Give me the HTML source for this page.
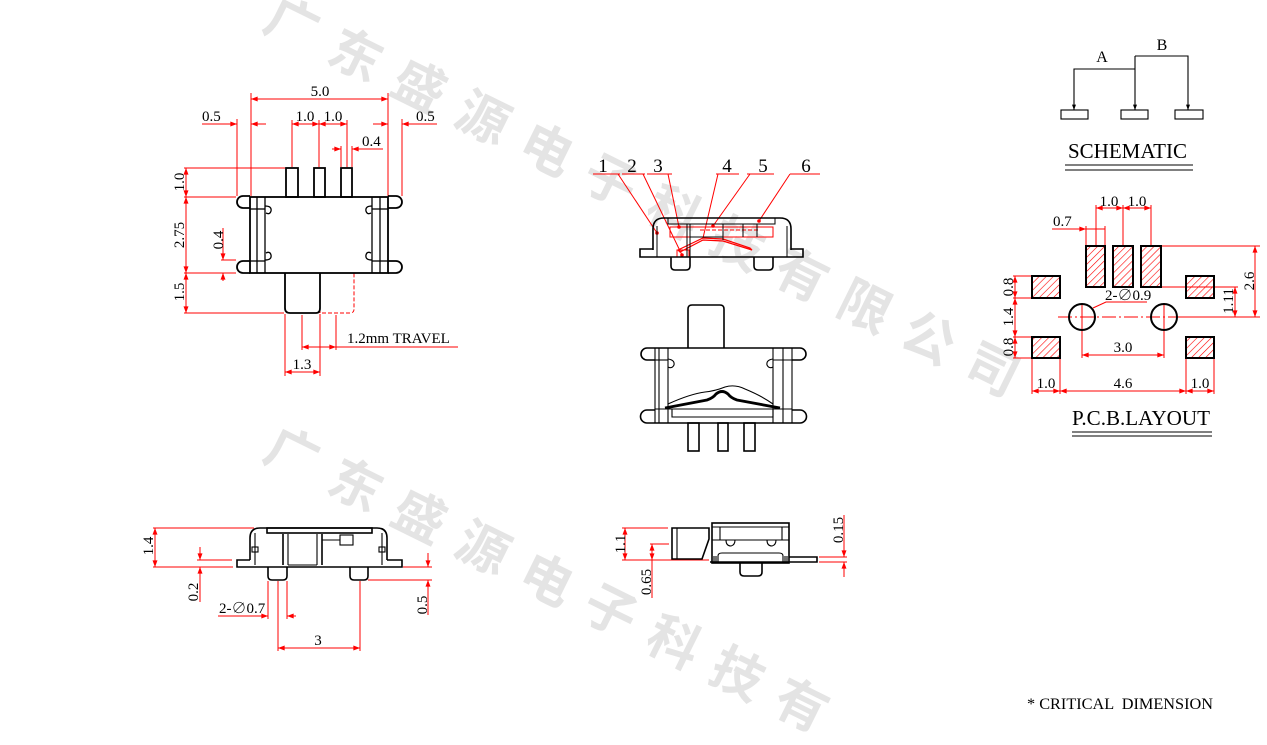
<!DOCTYPE html>
<html><head><meta charset="utf-8"><style>
html,body{margin:0;padding:0;background:#fff;width:1267px;height:745px;overflow:hidden;}
svg{display:block;overflow:hidden;}
text{font-family:"Liberation Serif","Noto Serif CJK SC",serif;fill:#000;}
.wm{font-family:"Noto Sans CJK SC","WenQuanYi Zen Hei",sans-serif;font-weight:bold;fill:#e4e4e4;}
</style></head><body>
<svg width="1267" height="745" viewBox="0 0 1267 745" xmlns="http://www.w3.org/2000/svg">
<defs>
<marker id="a" viewBox="0 0 8 6" refX="8" refY="3" markerWidth="7" markerHeight="5" orient="auto-start-reverse" markerUnits="userSpaceOnUse"><path d="M0,0 L8,3 L0,6z" fill="red"/></marker>
<marker id="k" viewBox="0 0 8 6" refX="8" refY="3" markerWidth="6" markerHeight="4" orient="auto-start-reverse" markerUnits="userSpaceOnUse"><path d="M0,0 L8,3 L0,6z" fill="#000"/></marker>
<pattern id="h" width="5" height="5" patternUnits="userSpaceOnUse" patternTransform="rotate(45)"><line x1="0" y1="0" x2="0" y2="5" stroke="red" stroke-width="1.2"/></pattern>
</defs>

<!-- watermark -->
<text class="wm" font-size="52" letter-spacing="19" transform="translate(292,24) rotate(26.3)" x="-26" y="18">广东盛源电子科技有限公司</text>
<text class="wm" font-size="52" letter-spacing="19" transform="translate(292,454) rotate(26.3)" x="-26" y="18">广东盛源电子科技有</text>

<!-- ============ TOP-LEFT VIEW ============ -->
<g stroke="red" stroke-width="1" fill="none">
 <line x1="251" y1="99" x2="388" y2="99" marker-start="url(#a)" marker-end="url(#a)"/>
 <line x1="251" y1="93" x2="251" y2="196"/>
 <line x1="388" y1="93" x2="388" y2="196"/>
 <line x1="202" y1="124" x2="237" y2="124" marker-end="url(#a)"/>
 <line x1="266" y1="124" x2="251" y2="124" marker-end="url(#a)"/>
 <line x1="237" y1="119" x2="237" y2="196"/>
 <line x1="373" y1="124" x2="388" y2="124" marker-end="url(#a)"/>
 <line x1="437" y1="124" x2="402" y2="124" marker-end="url(#a)"/>
 <line x1="402" y1="119" x2="402" y2="196"/>
 <line x1="292" y1="124" x2="319" y2="124" marker-start="url(#a)" marker-end="url(#a)"/>
 <line x1="319" y1="124" x2="347" y2="124" marker-start="url(#a)" marker-end="url(#a)"/>
 <line x1="292" y1="120" x2="292" y2="167"/>
 <line x1="319" y1="120" x2="319" y2="167"/>
 <line x1="347" y1="120" x2="347" y2="167"/>
 <line x1="332" y1="149" x2="341" y2="149" marker-end="url(#a)"/>
 <line x1="383" y1="149" x2="352" y2="149" marker-end="url(#a)"/>
 <line x1="341" y1="146" x2="341" y2="167"/>
 <line x1="352" y1="146" x2="352" y2="167"/>
 <line x1="186" y1="168" x2="186" y2="197" marker-start="url(#a)" marker-end="url(#a)"/>
 <line x1="186" y1="197" x2="186" y2="273" marker-start="url(#a)" marker-end="url(#a)"/>
 <line x1="186" y1="273" x2="186" y2="313" marker-start="url(#a)" marker-end="url(#a)"/>
 <line x1="184" y1="168" x2="285" y2="168"/>
 <line x1="184" y1="197" x2="236" y2="197"/>
 <line x1="184" y1="273" x2="236" y2="273"/>
 <line x1="184" y1="313" x2="284" y2="313"/>
 <line x1="223" y1="228" x2="223" y2="260" marker-end="url(#a)"/>
 <line x1="223" y1="281" x2="223" y2="273" marker-end="url(#a)"/>
 <line x1="221" y1="260" x2="236" y2="260"/>
 <line x1="302" y1="315" x2="302" y2="350"/>
 <line x1="336" y1="315" x2="336" y2="350"/>
 <line x1="302" y1="347" x2="336" y2="347" marker-start="url(#a)" marker-end="url(#a)"/>
 <line x1="336" y1="347" x2="458" y2="347"/>
 <line x1="285" y1="314" x2="285" y2="376"/>
 <line x1="320" y1="314" x2="320" y2="376"/>
 <line x1="285" y1="372" x2="320" y2="372" marker-start="url(#a)" marker-end="url(#a)"/>
 <path d="M320 273 V313 H350 Q354 313 354 309 V273" stroke-dasharray="4 2"/>
</g>
<g stroke="#000" stroke-width="1.8" fill="none">
 <rect x="286" y="168" width="12" height="29"/>
 <rect x="314" y="168" width="11" height="29"/>
 <rect x="341" y="168" width="11" height="29"/>
 <rect x="250" y="197" width="138" height="76"/>
 <path d="M250 196 H243 A6 6 0 0 0 243 208 H250"/>
 <path d="M250 261 H243 A6 6 0 0 0 243 273 H250"/>
 <path d="M388 196 H396 A6 6 0 0 1 396 208 H388"/>
 <path d="M388 261 H396 A6 6 0 0 1 396 273 H388"/>
 <path d="M285 273 V308 Q285 313 290 313 H316 Q320 313 320 308 V273"/>
</g>
<g stroke="#000" stroke-width="1.3" fill="none">
 <line x1="257" y1="197" x2="257" y2="273"/>
 <line x1="265" y1="197" x2="265" y2="273"/>
 <line x1="372" y1="197" x2="372" y2="273"/>
 <line x1="380" y1="197" x2="380" y2="273"/>
 <line x1="250" y1="209" x2="265" y2="209"/>
 <line x1="372" y1="209" x2="388" y2="209"/>
 <line x1="250" y1="261" x2="265" y2="261"/>
 <line x1="372" y1="261" x2="388" y2="261"/>
 <path d="M265 206 Q272 206 271 211 Q270 215 266 213"/>
 <path d="M372 206 Q365 206 366 211 Q367 215 371 213"/>
 <path d="M265 260 Q272 260 271 255 Q270 251 266 253"/>
 <path d="M372 260 Q365 260 366 255 Q367 251 371 253"/>
</g>
<g font-size="15">
 <text x="320" y="96" text-anchor="middle">5.0</text>
 <text x="202" y="121">0.5</text>
 <text x="416" y="121">0.5</text>
 <text x="305" y="121" text-anchor="middle">1.0</text>
 <text x="333" y="121" text-anchor="middle">1.0</text>
 <text x="362" y="146">0.4</text>
 <text transform="translate(184,182) rotate(-90)" text-anchor="middle">1.0</text>
 <text transform="translate(184,235) rotate(-90)" text-anchor="middle">2.75</text>
 <text transform="translate(223,240) rotate(-90)" text-anchor="middle">0.4</text>
 <text transform="translate(184,292) rotate(-90)" text-anchor="middle">1.5</text>
 <text x="347" y="343">1.2mm TRAVEL</text>
 <text x="302" y="369" text-anchor="middle">1.3</text>
</g>

<!-- ============ MIDDLE TOP (SECTION) ============ -->
<g stroke="red" stroke-width="1" fill="none">
 <line x1="593" y1="174" x2="620" y2="174"/>
 <line x1="622" y1="174" x2="645" y2="174"/>
 <line x1="647" y1="174" x2="672" y2="174"/>
 <line x1="716" y1="174" x2="739" y2="174"/>
 <line x1="747" y1="174" x2="774" y2="174"/>
 <line x1="790" y1="174" x2="820" y2="174"/>
 <line x1="618" y1="174" x2="657" y2="233"/>
 <line x1="643" y1="174" x2="682" y2="255"/>
 <line x1="668" y1="174" x2="679" y2="227"/>
 <line x1="718" y1="174" x2="703" y2="238"/>
 <line x1="750" y1="174" x2="713" y2="226"/>
 <line x1="790" y1="174" x2="759" y2="221"/>
 <rect x="670" y="227" width="103" height="10"/>
 <line x1="700" y1="230" x2="760" y2="230" stroke-dasharray="4 2"/>
 <path d="M678 250 L703 238 L723 239 L750 248 L752 250 L723 241 L703 240 L680 252Z" stroke-width="1.2"/>
 <rect x="677" y="250" width="12" height="7"/>
</g>
<g fill="red">
 <circle cx="657" cy="233" r="1.8"/><circle cx="679" cy="227" r="1.8"/><circle cx="713" cy="226" r="1.8"/><circle cx="759" cy="221" r="1.8"/><circle cx="682" cy="255" r="1.8"/>
</g>
<g stroke="#000" stroke-width="1.6" fill="none">
 <path d="M653 250 V229 Q653 218 664 218 H780 Q791 218 791 229 V250"/>
 <path d="M653 249 H640 V257 H803 V249 H791"/>
 <path d="M671 257 V266 Q671 270 675 270 H686 Q690 270 690 266 V257"/>
 <path d="M754 257 V266 Q754 270 758 270 H769 Q773 270 773 266 V257"/>
</g>
<g stroke="#000" stroke-width="1" fill="none">
 <line x1="657" y1="226" x2="657" y2="257"/>
 <line x1="787" y1="226" x2="787" y2="257"/>
 <rect x="668" y="218" width="107" height="6"/>
 <line x1="687" y1="224" x2="687" y2="257"/>
 <line x1="690" y1="224" x2="690" y2="257"/>
 <line x1="723" y1="224" x2="723" y2="240"/>
 <line x1="743" y1="224" x2="743" y2="237"/>
 <line x1="757" y1="224" x2="757" y2="237"/>
 <line x1="690" y1="237" x2="723" y2="237"/>
</g>
<g font-size="19">
 <text x="603" y="172" text-anchor="middle">1</text>
 <text x="632" y="172" text-anchor="middle">2</text>
 <text x="658" y="172" text-anchor="middle">3</text>
 <text x="727" y="172" text-anchor="middle">4</text>
 <text x="763" y="172" text-anchor="middle">5</text>
 <text x="806" y="172" text-anchor="middle">6</text>
</g>

<!-- ============ MIDDLE SECOND (TOP VIEW) ============ -->
<g stroke="#000" stroke-width="1.6" fill="none">
 <path d="M688 348 V309 Q688 305 692 305 H720 Q724 305 724 309 V348"/>
 <line x1="655" y1="348" x2="792" y2="348"/>
 <line x1="655" y1="423" x2="792" y2="423"/>
 <path d="M655 348 H647 A6 6 0 0 0 647 360 H655"/>
 <path d="M655 410 H647 A6.5 6.5 0 0 0 647 423 H655"/>
 <path d="M792 348 H800 A6 6 0 0 1 800 360 H792"/>
 <path d="M792 410 H800 A6.5 6.5 0 0 1 800 423 H792"/>
 <rect x="688" y="423" width="11" height="28"/>
 <rect x="718" y="423" width="10" height="28"/>
 <rect x="744" y="423" width="11" height="28"/>
 <path d="M665 408 L707 400 Q713 398 716 394 Q722 389 728 394 Q731 398 737 400 L780 408" stroke-width="2.8"/>
</g>
<g stroke="#000" stroke-width="1.1" fill="none">
 <line x1="655" y1="348" x2="655" y2="423"/>
 <line x1="659" y1="348" x2="659" y2="423"/>
 <line x1="668" y1="348" x2="668" y2="423"/>
 <line x1="773" y1="348" x2="773" y2="423"/>
 <line x1="783" y1="348" x2="783" y2="423"/>
 <line x1="792" y1="348" x2="792" y2="423"/>
 <line x1="655" y1="360" x2="668" y2="360"/>
 <line x1="773" y1="360" x2="792" y2="360"/>
 <line x1="655" y1="409" x2="792" y2="409"/>
 <path d="M668 359 Q675 360 674 365 Q672 369 668 367"/>
 <path d="M773 359 Q766 360 767 365 Q769 369 773 367"/>
 <path d="M668 404 Q690 394 705 392 Q715 391 725 387 Q735 384 745 389 Q762 396 773 404"/>
 <path d="M672 409 V417 H773 V409"/>
</g>

<!-- ============ BOTTOM LEFT (SIDE VIEW) ============ -->
<g stroke="red" stroke-width="1" fill="none">
 <line x1="153" y1="528" x2="254" y2="528"/>
 <line x1="153" y1="567" x2="233" y2="567"/>
 <line x1="155" y1="528" x2="155" y2="567" marker-start="url(#a)" marker-end="url(#a)"/>
 <line x1="197" y1="560" x2="232" y2="560"/>
 <line x1="200" y1="547" x2="200" y2="560" marker-end="url(#a)"/>
 <line x1="200" y1="602" x2="200" y2="567" marker-end="url(#a)"/>
 <line x1="403" y1="567" x2="432" y2="567"/>
 <line x1="368" y1="580" x2="432" y2="580"/>
 <line x1="428" y1="553" x2="428" y2="567" marker-end="url(#a)"/>
 <line x1="428" y1="615" x2="428" y2="580" marker-end="url(#a)"/>
 <line x1="268" y1="581" x2="268" y2="619"/>
 <line x1="287" y1="581" x2="287" y2="619"/>
 <line x1="218" y1="616" x2="268" y2="616" marker-end="url(#a)"/>
 <line x1="296" y1="616" x2="287" y2="616" marker-end="url(#a)"/>
 <line x1="278" y1="581" x2="278" y2="651"/>
 <line x1="360" y1="581" x2="360" y2="651"/>
 <line x1="278" y1="648" x2="360" y2="648" marker-start="url(#a)" marker-end="url(#a)"/>
</g>
<g stroke="#000" stroke-width="1.6" fill="none">
 <path d="M250 560 V538 Q250 528 260 528 H377 Q387 528 387 538 V560"/>
 <path d="M250 560 H237 V567 H402 V560 H387"/>
 <path d="M268 567 V576 Q268 580 272 580 H283 Q287 580 287 576 V567"/>
 <path d="M350 567 V576 Q350 580 354 580 H364 Q368 580 368 576 V567"/>
 <rect x="267" y="528" width="105" height="5"/>
</g>
<g stroke="#000" stroke-width="1.1" fill="none">
 <line x1="255" y1="533" x2="255" y2="565"/>
 <line x1="382" y1="533" x2="382" y2="565"/>
 <rect x="252" y="547" width="6" height="5"/>
 <rect x="379" y="547" width="6" height="5"/>
 <line x1="283" y1="534" x2="283" y2="565" stroke-width="1.6"/>
 <line x1="288" y1="534" x2="288" y2="565"/>
 <line x1="317" y1="534" x2="317" y2="565"/>
 <line x1="322" y1="534" x2="322" y2="565" stroke-width="1.6"/>
 <line x1="288" y1="565" x2="317" y2="565"/>
 <rect x="340" y="535" width="13" height="10"/>
 <line x1="322" y1="540" x2="340" y2="540"/>
</g>
<g font-size="15">
 <text transform="translate(153,546) rotate(-90)" text-anchor="middle">1.4</text>
 <text transform="translate(198,592) rotate(-90)" text-anchor="middle">0.2</text>
 <text transform="translate(427,605) rotate(-90)" text-anchor="middle">0.5</text>
 <text x="219" y="613">2-∅0.7</text>
 <text x="318" y="645" text-anchor="middle">3</text>
</g>

<!-- ============ BOTTOM MIDDLE (END VIEW) ============ -->
<g stroke="red" stroke-width="1" fill="none">
 <line x1="622" y1="528" x2="668" y2="528"/>
 <line x1="622" y1="560" x2="709" y2="560"/>
 <line x1="625" y1="528" x2="625" y2="560" marker-start="url(#a)" marker-end="url(#a)"/>
 <line x1="650" y1="544" x2="669" y2="544"/>
 <line x1="652" y1="544" x2="652" y2="560" marker-start="url(#a)" marker-end="url(#a)"/>
 <line x1="652" y1="560" x2="652" y2="598"/>
 <line x1="819" y1="557" x2="847" y2="557"/>
 <line x1="819" y1="562" x2="847" y2="562"/>
 <line x1="844" y1="515" x2="844" y2="557" marker-end="url(#a)"/>
 <line x1="844" y1="577" x2="844" y2="562" marker-end="url(#a)"/>
</g>
<g stroke="#000" stroke-width="1.6" fill="none">
 <path d="M672 528 H709 V539 L702 559 H672 Z"/>
 <rect x="712" y="523" width="77" height="40"/>
 <path d="M710 562 H789"/>
 <path d="M789 557 H817 V562 H789"/>
 <path d="M740 563 V572 Q740 576 744 576 H758 Q762 576 762 572 V563"/>
</g>
<g stroke="#000" stroke-width="1.1" fill="none">
 <line x1="677" y1="528" x2="677" y2="559"/>
 <line x1="712" y1="527" x2="789" y2="527"/>
 <line x1="720" y1="527" x2="720" y2="540"/>
 <line x1="782" y1="527" x2="782" y2="540"/>
 <line x1="712" y1="540" x2="789" y2="540"/>
 <path d="M726 540 Q726 546 731 546 Q735 545 735 540"/>
 <path d="M767 540 Q767 546 772 546 Q776 545 776 540"/>
 <path d="M718 563 V556 Q718 553 722 553 H779 Q783 553 783 556 V563"/>
 <line x1="714" y1="556" x2="714" y2="562"/><line x1="716" y1="556" x2="716" y2="562"/>
 <line x1="785" y1="556" x2="785" y2="562"/><line x1="787" y1="556" x2="787" y2="562"/>
</g>
<g font-size="15">
 <text transform="translate(625,544) rotate(-90)" text-anchor="middle">1.1</text>
 <text transform="translate(651,582) rotate(-90)" text-anchor="middle">0.65</text>
 <text transform="translate(843,530) rotate(-90)" text-anchor="middle">0.15</text>
</g>

<!-- ============ SCHEMATIC ============ -->
<g stroke="#000" stroke-width="1.1" fill="none">
 <rect x="1061" y="110" width="27" height="9"/>
 <rect x="1121" y="110" width="27" height="9"/>
 <rect x="1175" y="110" width="28" height="9"/>
 <path d="M1074 110 V69 H1135" marker-start="url(#k)"/>
 <line x1="1135" y1="110" x2="1135" y2="56" marker-start="url(#k)"/>
 <path d="M1135 56 H1188 V110" marker-end="url(#k)"/>
 <line x1="1065" y1="165" x2="1193" y2="165"/>
 <line x1="1065" y1="170" x2="1193" y2="170"/>
</g>
<text x="1102" y="62" font-size="16" text-anchor="middle">A</text>
<text x="1162" y="50" font-size="16" text-anchor="middle">B</text>
<text x="1068" y="158" font-size="21" textLength="119" lengthAdjust="spacingAndGlyphs">SCHEMATIC</text>

<!-- ============ PCB LAYOUT ============ -->
<g stroke="red" stroke-width="1" fill="none">
 <line x1="1096" y1="205" x2="1096" y2="245"/>
 <line x1="1123" y1="205" x2="1123" y2="245"/>
 <line x1="1151" y1="205" x2="1151" y2="245"/>
 <line x1="1096" y1="208" x2="1123" y2="208" marker-start="url(#a)" marker-end="url(#a)"/>
 <line x1="1123" y1="208" x2="1151" y2="208" marker-start="url(#a)" marker-end="url(#a)"/>
 <line x1="1086" y1="226" x2="1086" y2="245"/>
 <line x1="1105" y1="226" x2="1105" y2="245"/>
 <line x1="1052" y1="229" x2="1086" y2="229" marker-end="url(#a)"/>
 <line x1="1086" y1="229" x2="1105" y2="229"/>
 <line x1="1162" y1="246" x2="1260" y2="246"/>
 <line x1="1255" y1="246" x2="1255" y2="317" marker-start="url(#a)" marker-end="url(#a)"/>
 <line x1="1162" y1="287" x2="1238" y2="287"/>
 <line x1="1235" y1="287" x2="1235" y2="317" marker-start="url(#a)" marker-end="url(#a)"/>
 <line x1="1058" y1="317" x2="1177" y2="317" stroke-dasharray="14 3 2 3"/>
 <line x1="1177" y1="317" x2="1260" y2="317"/>
 <line x1="1082" y1="303" x2="1082" y2="358"/>
 <line x1="1164" y1="303" x2="1164" y2="358"/>
 <line x1="1082" y1="355" x2="1164" y2="355" marker-start="url(#a)" marker-end="url(#a)"/>
 <path d="M1093 308 L1106 302 H1147"/>
 <line x1="1013" y1="276" x2="1031" y2="276"/>
 <line x1="1013" y1="298" x2="1031" y2="298"/>
 <line x1="1013" y1="337" x2="1031" y2="337"/>
 <line x1="1013" y1="358" x2="1031" y2="358"/>
 <line x1="1015" y1="276" x2="1015" y2="298" marker-start="url(#a)" marker-end="url(#a)"/>
 <line x1="1015" y1="298" x2="1015" y2="337" marker-start="url(#a)" marker-end="url(#a)"/>
 <line x1="1015" y1="337" x2="1015" y2="358" marker-start="url(#a)" marker-end="url(#a)"/>
 <line x1="1032" y1="359" x2="1032" y2="394"/>
 <line x1="1060" y1="359" x2="1060" y2="394"/>
 <line x1="1186" y1="359" x2="1186" y2="394"/>
 <line x1="1214" y1="359" x2="1214" y2="394"/>
 <line x1="1032" y1="391" x2="1060" y2="391" marker-start="url(#a)" marker-end="url(#a)"/>
 <line x1="1060" y1="391" x2="1186" y2="391" marker-start="url(#a)" marker-end="url(#a)"/>
 <line x1="1186" y1="391" x2="1214" y2="391" marker-start="url(#a)" marker-end="url(#a)"/>
</g>
<g stroke="#000" stroke-width="2" fill="url(#h)">
 <rect x="1086" y="246" width="19" height="41"/>
 <rect x="1113" y="246" width="20" height="41"/>
 <rect x="1141" y="246" width="20" height="41"/>
 <rect x="1032" y="276" width="28" height="22"/>
 <rect x="1032" y="337" width="28" height="21"/>
 <rect x="1186" y="276" width="28" height="22"/>
 <rect x="1186" y="337" width="28" height="21"/>
</g>
<g stroke="#000" stroke-width="2" fill="none">
 <circle cx="1082" cy="317" r="13"/>
 <circle cx="1164" cy="317" r="13"/>
</g>
<g font-size="15">
 <text x="1109" y="206" text-anchor="middle">1.0</text>
 <text x="1137" y="206" text-anchor="middle">1.0</text>
 <text x="1053" y="226">0.7</text>
 <text x="1105" y="300">2-∅0.9</text>
 <text x="1123" y="352" text-anchor="middle">3.0</text>
 <text transform="translate(1254,281) rotate(-90)" text-anchor="middle">2.6</text>
 <text transform="translate(1233,301) rotate(-90)" text-anchor="middle">1.11</text>
 <text transform="translate(1013,287) rotate(-90)" text-anchor="middle">0.8</text>
 <text transform="translate(1013,317) rotate(-90)" text-anchor="middle">1.4</text>
 <text transform="translate(1013,347) rotate(-90)" text-anchor="middle">0.8</text>
 <text x="1046" y="388" text-anchor="middle">1.0</text>
 <text x="1123" y="388" text-anchor="middle">4.6</text>
 <text x="1200" y="388" text-anchor="middle">1.0</text>
</g>
<text x="1072" y="425" font-size="21" textLength="138" lengthAdjust="spacingAndGlyphs">P.C.B.LAYOUT</text>
<g stroke="#000" stroke-width="1.1">
 <line x1="1072" y1="432" x2="1212" y2="432"/>
 <line x1="1072" y1="436" x2="1212" y2="436"/>
</g>

<text x="1027" y="709" font-size="16" xml:space="preserve" textLength="186" lengthAdjust="spacingAndGlyphs">* CRITICAL  DIMENSION</text>
</svg>
</body></html>
